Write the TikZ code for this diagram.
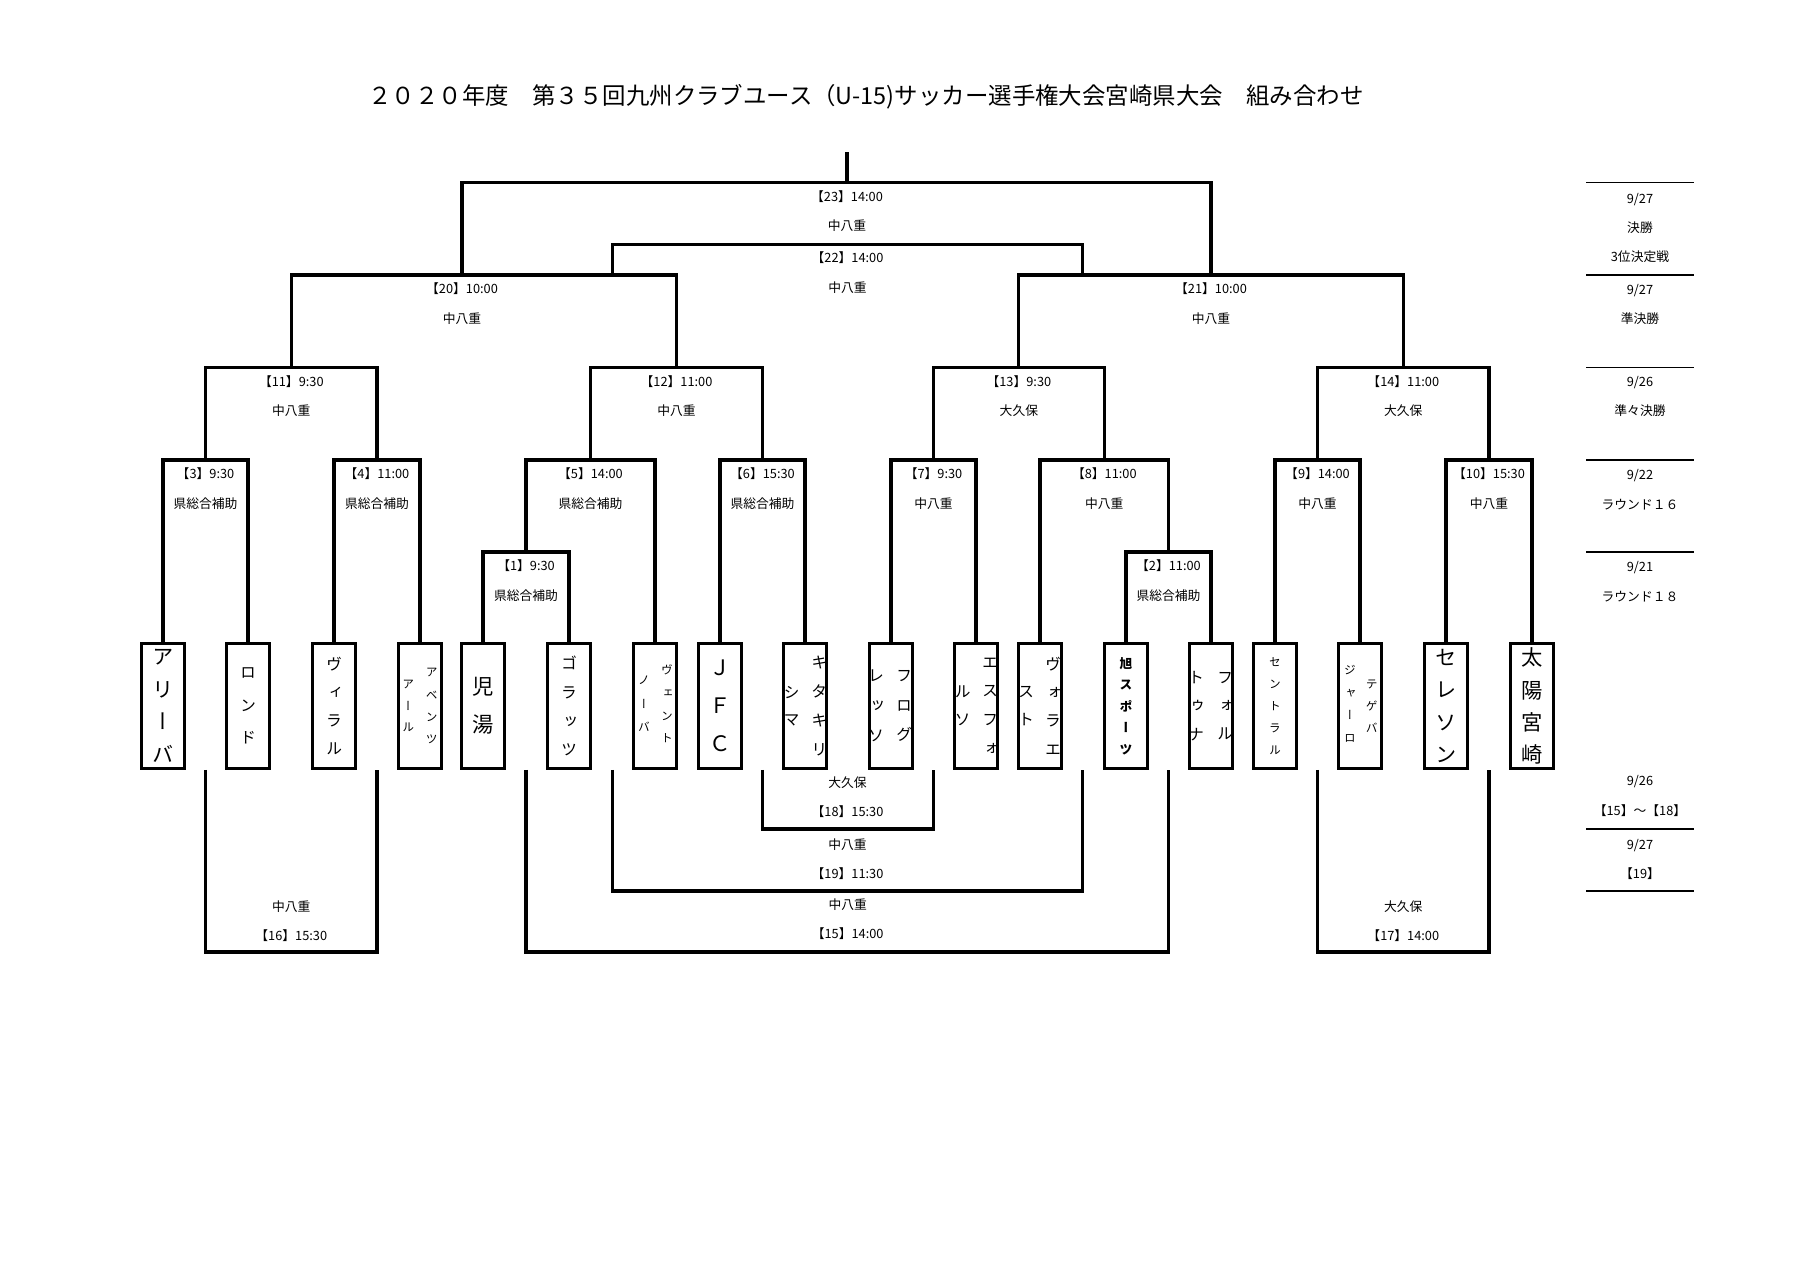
\documentclass[tikz,border=0pt]{standalone}
\usepackage{fontspec}
\setmainfont{Noto Sans CJK JP}
\newfontfamily\tatefont[RawFeature=+vert]{Noto Sans CJK JP}
\usetikzlibrary{calc}

\begin{document}
\begin{tikzpicture}[x=0.0165cm, y=-0.0165cm,
  bk/.style={line width=1.45pt},
  sepline/.style={line width=0.6pt},
  team/.style={draw, line width=1.5pt, minimum width=0.71cm, minimum height=2.05cm, inner sep=0pt, align=center},
  colnode/.style={align=center, inner sep=0pt},
  lbl/.style={font=\fontsize{6}{13.8}\selectfont, align=center, inner sep=0pt},
  bigtxt/.style={font=\tatefont\fontsize{10}{#1}\selectfont},
  midtxt/.style={font=\tatefont\fontsize{7.5}{#1}\selectfont},
  smltxt/.style={font=\tatefont\fontsize{5.5}{#1}\selectfont}]
\useasboundingbox (0,0) rectangle (1800,1272);
\def\yfin{182.7}
\def\ythird{244.3}
\def\ysemi{275}
\def\yqf{367.4}
\def\yrs{460}
\def\yre{552}
\def\yto{829}
\def\ytn{891}
\def\ybot{952}

\node[font=\fontsize{11}{13}\selectfont] (title) at (866,97) {２０２０年度　第３５回九州クラブユース（U-15)サッカー選手権大会宮崎県大会　組み合わせ};

\node[team, bigtxt=15.3] (t1) at (163,706) {ア\\リ\\ー\\バ};
\node[team, midtxt=15.2] (t2) at (248,706) {ロ\\ン\\ド};
\node[team, midtxt=13.2] (t3) at (334,706) {ヴ\\ィ\\ラ\\ル};
\node[team] (t4) at (420,706) {};
\node[colnode, smltxt=10.4] (t4r) at ($(t4)+(11.7,0)$) {ア\\ベ\\ン\\ツ};
\node[colnode, smltxt=10.2] (t4l) at ($(t4)+(-11.7,0)$) {ア\\ー\\ル};
\node[team, bigtxt=17.9] (t5) at (483,706) {児\\湯};
\node[team, midtxt=13.5] (t6) at (569,706) {ゴ\\ラ\\ッ\\ツ};
\node[team] (t7) at (655,706) {};
\node[colnode, smltxt=10.6] (t7r) at ($(t7)+(12,-2)$) {ヴ\\ェ\\ン\\ト};
\node[colnode, smltxt=11] (t7l) at ($(t7)+(-11,-2)$) {ノ\\ー\\バ};
\node[team, bigtxt=17.8] (t8) at (720,706) {Ｊ\\Ｆ\\Ｃ};
\node[team] (t9) at (805,706) {};
\node[colnode, midtxt=13.5] (t9r) at ($(t9)+(14.3,0)$) {キ\\タ\\キ\\リ};
\node[colnode, midtxt=12.5] (t9l) at ($(t9)+(-13.3,0)$) {シ\\マ};
\node[team] (t10) at (891,706) {};
\node[colnode, midtxt=14] (t10r) at ($(t10)+(13,0)$) {フ\\ロ\\グ};
\node[colnode, midtxt=14] (t10l) at ($(t10)+(-15,0)$) {レ\\ッ\\ソ};
\node[team] (t11) at (976,706) {};
\node[colnode, midtxt=13.5] (t11r) at ($(t11)+(14,0)$) {エ\\ス\\フ\\ォ};
\node[colnode, midtxt=13.3] (t11l) at ($(t11)+(-13.3,0)$) {ル\\ソ};
\node[team] (t12) at (1040,706) {};
\node[colnode, midtxt=13.3] (t12r) at ($(t12)+(13,0)$) {ヴ\\ォ\\ラ\\エ};
\node[colnode, midtxt=13.3] (t12l) at ($(t12)+(-14,0)$) {ス\\ト};
\node[team, font=\tatefont\fontsize{6}{10.1}\selectfont\bfseries] (t13) at (1126,706) {旭\\ス\\ポ\\ー\\ツ};
\node[team] (t14) at (1211,706) {};
\node[colnode, midtxt=13.3] (t14r) at ($(t14)+(14,0)$) {フ\\ォ\\ル};
\node[colnode, midtxt=13.3] (t14l) at ($(t14)+(-15,0)$) {ト\\ゥ\\ナ};
\node[team, smltxt=10.3] (t15) at (1275,706) {セ\\ン\\ト\\ラ\\ル};
\node[team] (t16) at (1360,706) {};
\node[colnode, smltxt=10.2] (t16r) at ($(t16)+(11.7,0)$) {テ\\ゲ\\バ};
\node[colnode, smltxt=10.7] (t16l) at ($(t16)+(-10,-2)$) {ジ\\ャ\\ー\\ロ};
\node[team, bigtxt=15.1] (t17) at (1446,706) {セ\\レ\\ソ\\ン};
\node[team, bigtxt=15.1] (t18) at (1532,706) {太\\陽\\宮\\崎};

\coordinate (m1) at (526,\yre);
\coordinate (m2) at (1168.5,\yre);
\coordinate (m3) at (205.5,\yrs);
\coordinate (m4) at (377,\yrs);
\coordinate (m5) at (590.5,\yrs);
\coordinate (m6) at (762.5,\yrs);
\coordinate (m7) at (933.5,\yrs);
\coordinate (m8) at (1104.3,\yrs);
\coordinate (m9) at (1317.5,\yrs);
\coordinate (m10) at (1489,\yrs);
\coordinate (m11) at (291.3,\yqf);
\coordinate (m12) at (676.5,\yqf);
\coordinate (m13) at (1018.9,\yqf);
\coordinate (m14) at (1403.3,\yqf);
\coordinate (m20) at (462,\ysemi);
\coordinate (m21) at (1211,\ysemi);
\coordinate (s20) at (612.3,\ysemi);
\coordinate (s21) at (1082.6,\ysemi);
\coordinate (m22) at (847.5,\ythird);
\coordinate (m23) at (847,\yfin);
\coordinate (win) at (847,152);
\coordinate (m15) at (847.7,\ybot);
\coordinate (m16) at (291.3,\ybot);
\coordinate (m17) at (1403.3,\ybot);
\coordinate (m18) at (847.5,\yto);
\coordinate (m19) at (847.5,\ytn);

\draw[bk] (t5.north) |- (m1) -| (t6.north);
\draw[bk] (t13.north) |- (m2) -| (t14.north);
\draw[bk] (t1.north) |- (m3) -| (t2.north);
\draw[bk] (t3.north) |- (m4) -| (t4.north);
\draw[bk] (m1) |- (m5) -| (t7.north);
\draw[bk] (t8.north) |- (m6) -| (t9.north);
\draw[bk] (t10.north) |- (m7) -| (t11.north);
\draw[bk] (t12.north) |- (m8) -| (m2);
\draw[bk] (t15.north) |- (m9) -| (t16.north);
\draw[bk] (t17.north) |- (m10) -| (t18.north);
\draw[bk] (m3) |- (m11) -| (m4);
\draw[bk] (m5) |- (m12) -| (m6);
\draw[bk] (m7) |- (m13) -| (m8);
\draw[bk] (m9) |- (m14) -| (m10);
\draw[bk] (m11) |- (m20) -| (m12);
\draw[bk] (m13) |- (m21) -| (m14);
\draw[bk] (s20) |- (m22) -| (s21);
\draw[bk] (m20) |- (m23) -| (m21);
\draw[bk] (m23) -- (win);
\draw[bk] (m3 |- t1.south) |- (m16) -| (m4 |- t1.south);
\draw[bk] (m1 |- t1.south) |- (m15) -| (m2 |- t1.south);
\draw[bk] (s20 |- t1.south) |- (m19) -| (s21 |- t1.south);
\draw[bk] (m6 |- t1.south) |- (m18) -| (m7 |- t1.south);
\draw[bk] (m9 |- t1.south) |- (m17) -| (m10 |- t1.south);

\node[lbl] (l23) at ($(m23)+(0,28.5)$) {【23】14:00\\中八重};
\node[lbl] (l22) at ($(m22)+(0,28.5)$) {【22】14:00\\中八重};
\node[lbl] (l20) at ($(m20)+(0,28.5)$) {【20】10:00\\中八重};
\node[lbl] (l21) at ($(m21)+(0,28.5)$) {【21】10:00\\中八重};
\node[lbl] (l11) at ($(m11)+(0,28.5)$) {【11】9:30\\中八重};
\node[lbl] (l12) at ($(m12)+(0,28.5)$) {【12】11:00\\中八重};
\node[lbl] (l13) at ($(m13)+(0,28.5)$) {【13】9:30\\大久保};
\node[lbl] (l14) at ($(m14)+(0,28.5)$) {【14】11:00\\大久保};
\node[lbl] (l3) at ($(m3)+(0,28.5)$) {【3】9:30\\県総合補助};
\node[lbl] (l4) at ($(m4)+(0,28.5)$) {【4】11:00\\県総合補助};
\node[lbl] (l5) at ($(m5)+(0,28.5)$) {【5】14:00\\県総合補助};
\node[lbl] (l6) at ($(m6)+(0,28.5)$) {【6】15:30\\県総合補助};
\node[lbl] (l7) at ($(m7)+(0,28.5)$) {【7】9:30\\中八重};
\node[lbl] (l8) at ($(m8)+(0,28.5)$) {【8】11:00\\中八重};
\node[lbl] (l9) at ($(m9)+(0,28.5)$) {【9】14:00\\中八重};
\node[lbl] (l10) at ($(m10)+(0,28.5)$) {【10】15:30\\中八重};
\node[lbl] (l1) at ($(m1)+(0,28.5)$) {【1】9:30\\県総合補助};
\node[lbl] (l2) at ($(m2)+(0,28.5)$) {【2】11:00\\県総合補助};
\node[lbl] (l16) at ($(m16)+(0,-31)$) {中八重\\【16】15:30};
\node[lbl] (l15) at ($(m15)+(0,-33)$) {中八重\\【15】14:00};
\node[lbl] (l19) at ($(m19)+(0,-32)$) {中八重\\【19】11:30};
\node[lbl] (l18) at ($(m18)+(0,-32)$) {大久保\\【18】15:30};
\node[lbl] (l17) at ($(m17)+(0,-31)$) {大久保\\【17】14:00};

\draw[sepline] (1586,\yfin) -- (1694,\yfin) (1586,\ysemi) -- (1694,\ysemi)
  (1586,\yqf) -- (1694,\yqf) (1586,\yrs) -- (1694,\yrs) (1586,\yre) -- (1694,\yre)
  (1586,\yto) -- (1694,\yto) (1586,\ytn) -- (1694,\ytn);
\node[lbl] (d1) at (1640,228) {9/27\\決勝\\3位決定戦};
\node[lbl] (d2) at (1640,304.5) {9/27\\準決勝};
\node[lbl] (d3) at (1640,396.5) {9/26\\準々決勝};
\node[lbl] (d4) at (1640,489.5) {9/22\\ラウンド１６};
\node[lbl] (d5) at (1640,581.5) {9/21\\ラウンド１８};
\node[lbl] (d6) at (1640,796) {9/26\\【15】～【18】};
\node[lbl] (d7) at (1640,859.5) {9/27\\【19】};
\end{tikzpicture}
\end{document}
